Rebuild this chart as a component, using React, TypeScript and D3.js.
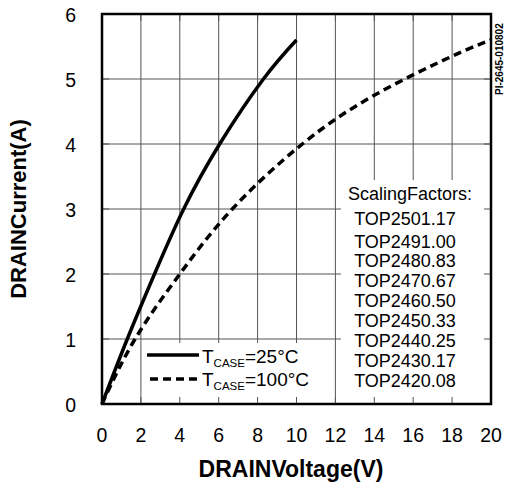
import * as d3 from "d3";

const xTicks = [0, 2, 4, 6, 8, 10, 12, 14, 16, 18, 20];
const yTicks = [0, 1, 2, 3, 4, 5, 6];

// T_CASE = 25°C
const voltage25 = [0, 1.3, 2.7, 4.2, 6.05, 8.3, 10];
const current25 = [0, 1, 2, 3, 4, 5, 5.6];

// T_CASE = 100°C
const voltage100 = [0, 1.7, 4.0, 6.7, 10.3, 14, 18, 20];
const current100 = [0, 1, 2, 3, 4, 4.75, 5.35, 5.6];

const parts = ["TOP250", "TOP249", "TOP248", "TOP247", "TOP246", "TOP245", "TOP244", "TOP243", "TOP242"];
const factors = ["1.17", "1.00", "0.83", "0.67", "0.50", "0.33", "0.25", "0.17", "0.08"];

const W = 509;
const H = 487;
const left = 102;
const right = 491;
const top = 14;
const bottom = 404;
const font = "'Liberation Sans', Arial, Helvetica, sans-serif";

export default function App() {
  const x = d3.scaleLinear().domain([0, 20]).range([left, right]);
  const y = d3.scaleLinear().domain([0, 6]).range([bottom, top]);

  const line = d3
    .line<[number, number]>()
    .x((d) => x(d[0]))
    .y((d) => y(d[1]))
    .curve(d3.curveNatural);

  const pts25 = voltage25.map((v, i) => [v, current25[i]] as [number, number]);
  const pts100 = voltage100.map((v, i) => [v, current100[i]] as [number, number]);

  const tick = 7;
  const rowBase = (i: number) => (i === 0 ? 224.5 : 247.5 + (i - 1) * 19.86);

  return (
    <svg
      width={W}
      height={H}
      style={{ position: "absolute", left: 0, top: 0, background: "#fff" }}
      fontFamily={font}
    >
      {/* grid */}
      {xTicks.map((t) => (
        <line key={"gx" + t} x1={x(t)} x2={x(t)} y1={top} y2={bottom} stroke="#555" strokeWidth={1} />
      ))}
      {yTicks.map((t) => (
        <line key={"gy" + t} x1={left} x2={right} y1={y(t)} y2={y(t)} stroke="#555" strokeWidth={1} />
      ))}

      {/* curves */}
      <path d={line(pts25) ?? ""} fill="none" stroke="#000" strokeWidth={3.5} />
      <path d={line(pts100) ?? ""} fill="none" stroke="#000" strokeWidth={3.5} strokeDasharray="8,5" />

      {/* white boxes */}
      <rect x={143} y={343} width={188} height={bottom - 343} fill="#fff" />
      <rect x={341} y={180} width={right - 341} height={bottom - 180} fill="#fff" />

      {/* inward ticks */}
      {xTicks.map((t) => (
        <g key={"tx" + t}>
          <line x1={x(t)} x2={x(t)} y1={bottom} y2={bottom - tick} stroke="#555" />
          <line x1={x(t)} x2={x(t)} y1={top} y2={top + tick} stroke="#555" />
        </g>
      ))}
      {yTicks.map((t) => (
        <g key={"ty" + t}>
          <line x1={left} x2={left + tick} y1={y(t)} y2={y(t)} stroke="#555" />
          <line x1={right} x2={right - tick} y1={y(t)} y2={y(t)} stroke="#555" />
        </g>
      ))}

      {/* frame */}
      <rect x={left} y={top} width={right - left} height={bottom - top} fill="none" stroke="#000" strokeWidth={2.5} />

      {/* tick labels */}
      {xTicks.map((t) => (
        <text key={"lx" + t} x={x(t)} y={442} textAnchor="middle" fontSize={19.5}>
          {t}
        </text>
      ))}
      {yTicks.map((t) => (
        <text key={"ly" + t} x={76} y={y(t) + 8} textAnchor="end" fontSize={19.5}>
          {t}
        </text>
      ))}

      {/* axis titles */}
      <text x={291} y={477} textAnchor="middle" fontSize={23} fontWeight="bold">
        DRAINVoltage(V)
      </text>
      <text
        transform={`translate(26,${(top + bottom) / 2}) rotate(-90)`}
        textAnchor="middle"
        fontSize={22}
        fontWeight="bold"
      >
        DRAINCurrent(A)
      </text>

      {/* legend */}
      <line x1={147} x2={199} y1={355} y2={355} stroke="#000" strokeWidth={3.5} />
      <line x1={150} x2={199} y1={379} y2={379} stroke="#000" strokeWidth={3.5} strokeDasharray="8,5" />
      <text x={202} y={363} fontSize={19}>
        T<tspan fontSize={11.5} dy={4}>CASE</tspan>
        <tspan dy={-4}>=25°C</tspan>
      </text>
      <text x={202} y={386} fontSize={19}>
        T<tspan fontSize={11.5} dy={4}>CASE</tspan>
        <tspan dy={-4}>=100°C</tspan>
      </text>

      {/* scaling factors */}
      <text x={410} y={199.5} textAnchor="middle" fontSize={18}>
        ScalingFactors:
      </text>
      {parts.map((p, i) => (
        <text key={p} x={405} y={rowBase(i)} textAnchor="middle" fontSize={18}>
          {p + factors[i]}
        </text>
      ))}

      {/* figure id */}
      <text transform="translate(503,95) rotate(-90)" fontSize={10} fontWeight="bold">
        PI-2645-010802
      </text>
    </svg>
  );
}
